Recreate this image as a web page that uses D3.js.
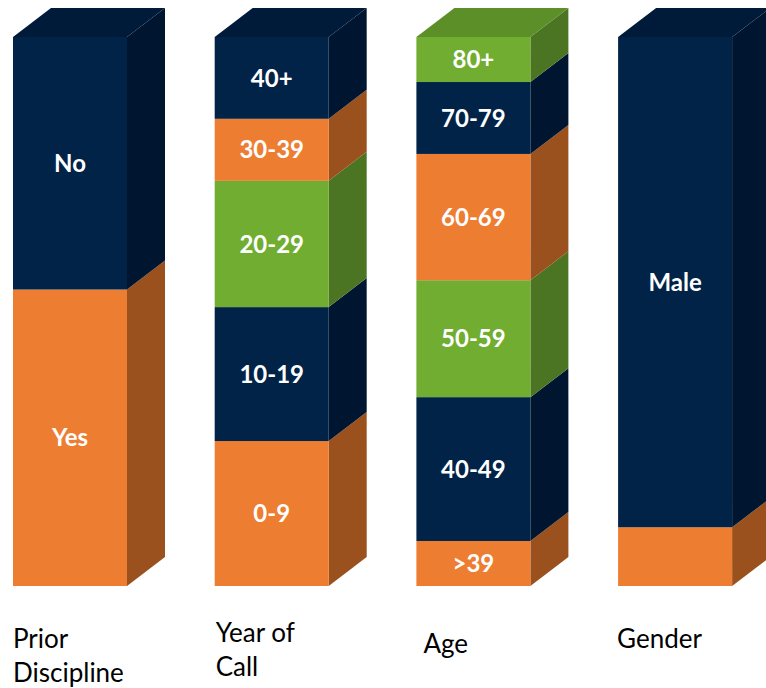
<!DOCTYPE html>
<html><head><meta charset="utf-8">
<script src="https://cdn.jsdelivr.net/npm/d3@7"></script>
<style>body{margin:0;background:#fff}svg{display:block}</style>
</head><body>
<script>
// Data (percent of each column, bottom to top)
const categories = ["Prior Discipline", "Year of Call", "Age", "Gender"];
const priorLabels = ["Yes", "No"];
const priorValues = [54, 46];
const priorColors = ["orange", "navy"];
const yocLabels = ["0-9", "10-19", "20-29", "30-39", "40+"];
const yocValues = [26.4, 24.4, 23.0, 11.3, 14.9];
const yocColors = ["orange", "navy", "green", "orange", "navy"];
const ageLabels = [">39", "40-49", "50-59", "60-69", "70-79", "80+"];
const ageValues = [8.2, 26.2, 21.3, 23.0, 13.1, 8.2];
const ageColors = ["orange", "navy", "green", "orange", "navy", "green"];
const genderLabels = ["", "Male"];
const genderValues = [10.7, 89.3];
const genderColors = ["orange", "navy"];

const columns = [
  {name: categories[0], labels: priorLabels, values: priorValues, colors: priorColors},
  {name: categories[1], labels: yocLabels, values: yocValues, colors: yocColors},
  {name: categories[2], labels: ageLabels, values: ageValues, colors: ageColors},
  {name: categories[3], labels: genderLabels, values: genderValues, colors: genderColors}
];

const palette = {
  navy:   {front: "#002347", side: "#001630", top: "#001a3a"},
  orange: {front: "#ED7D31", side: "#9A511E", top: "#b86326"},
  green:  {front: "#70AD30", side: "#4B7523", top: "#5c8f28"}
};

const W = 766, H = 688;
const svg = d3.select("body").append("svg").attr("width", W).attr("height", H);

const x = d3.scaleBand().domain(categories).range([13, 13 + 4 * 201.7]).paddingInner(0).paddingOuter(0);
const barW = 114;
const y = d3.scaleLinear().domain([0, 100]).range([586, 37]);
const dx = 38, dy = 29;

columns.forEach((col, ci) => {
  const x0 = x(col.name), x1 = x0 + barW;
  let cum = 0;
  const segs = col.values.map((v, i) => {
    const s = {lo: cum, hi: cum + v, label: col.labels[i], color: palette[col.colors[i]]};
    cum += v;
    return s;
  });
  const g = svg.append("g");
  segs.forEach((s, i) => {
    const yb = y(s.lo), yt = y(s.hi);
    g.append("path")
      .attr("d", `M${x1},${yb}L${x1 + dx},${yb - dy}L${x1 + dx},${yt - dy}L${x1},${yt}Z`)
      .attr("fill", s.color.side);
    if (i === segs.length - 1) {
      g.append("path")
        .attr("d", `M${x0},${yt}L${x0 + dx},${yt - dy}L${x1 + dx},${yt - dy}L${x1},${yt}Z`)
        .attr("fill", s.color.top);
    }
    g.append("rect")
      .attr("x", x0).attr("y", yt).attr("width", barW).attr("height", yb - yt)
      .attr("fill", s.color.front);
    if (s.label) {
      g.append("text")
        .attr("x", x0 + barW / 2).attr("y", (yb + yt) / 2)
        .attr("dy", "0.36em")
        .attr("text-anchor", "middle")
        .attr("fill", "#fff")
        .attr("font-family", "Lato, 'Open Sans', sans-serif")
        .attr("font-weight", "bold")
        .attr("font-size", 24)
        .text(s.label);
    }
  });
});

// Category labels
const catLines = [["Prior", "Discipline"], ["Year of", "Call"], ["Age"], ["Gender"]];
const catY = [648, 642, 653, 648];
const catDx = [0, 1, 7, -1];
categories.forEach((c, i) => {
  const t = svg.append("text")
    .attr("x", x(c) + catDx[i])
    .attr("y", catY[i])
    .attr("fill", "#000")
    .attr("font-family", "Lato, 'Open Sans', sans-serif")
    .attr("font-size", 26);
  catLines[i].forEach((l, j) => {
    t.append("tspan").attr("x", x(c) + catDx[i]).attr("dy", j === 0 ? 0 : 34).text(l);
  });
});
</script>
</body></html>
